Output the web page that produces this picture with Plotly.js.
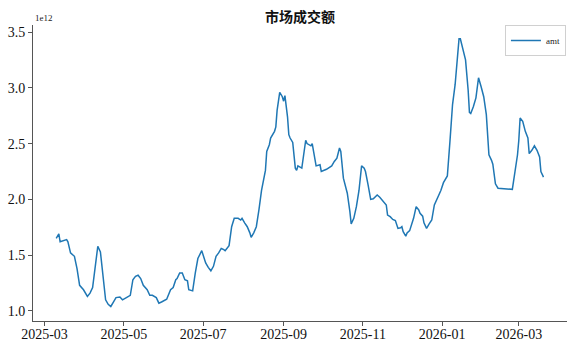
<!DOCTYPE html>
<html>
<head>
<meta charset="utf-8">
<script src="https://cdn.plot.ly/plotly-3.0.1.min.js"></script>
<style>html,body{margin:0;padding:0;background:#fff}#chart{width:576px;height:346px}</style>
</head>
<body>
<div id="chart"></div>
<script>
const dates = [
"2025-03-10","2025-03-12","2025-03-13","2025-03-16","2025-03-18","2025-03-19","2025-03-21","2025-03-24","2025-03-26","2025-03-28",
"2025-03-31","2025-04-03","2025-04-05","2025-04-07","2025-04-09","2025-04-11","2025-04-13","2025-04-15","2025-04-17","2025-04-19",
"2025-04-21","2025-04-23","2025-04-25","2025-04-28","2025-04-30","2025-05-03","2025-05-06","2025-05-08","2025-05-10","2025-05-12",
"2025-05-14","2025-05-16","2025-05-19","2025-05-21","2025-05-23","2025-05-26","2025-05-28","2025-05-30","2025-06-03","2025-06-06",
"2025-06-08","2025-06-10","2025-06-11","2025-06-13","2025-06-15","2025-06-17","2025-06-19","2025-06-20","2025-06-23","2025-06-25",
"2025-06-27","2025-06-30","2025-07-03","2025-07-05","2025-07-07","2025-07-09","2025-07-11","2025-07-13","2025-07-15","2025-07-17",
"2025-07-18","2025-07-21","2025-07-23","2025-07-25","2025-07-28","2025-07-30","2025-07-31","2025-08-02","2025-08-04","2025-08-06",
"2025-08-07","2025-08-09","2025-08-11","2025-08-13","2025-08-15","2025-08-18","2025-08-19","2025-08-21","2025-08-22","2025-08-25",
"2025-08-26","2025-08-27","2025-08-29","2025-08-31","2025-09-01","2025-09-02","2025-09-04","2025-09-05","2025-09-06","2025-09-08",
"2025-09-10","2025-09-11","2025-09-12","2025-09-15","2025-09-16","2025-09-18","2025-09-19","2025-09-22","2025-09-23","2025-09-25",
"2025-09-26","2025-09-29","2025-09-30","2025-10-04","2025-10-08","2025-10-10","2025-10-12","2025-10-14","2025-10-15","2025-10-17",
"2025-10-20","2025-10-22","2025-10-23","2025-10-25","2025-10-27","2025-10-29","2025-10-31","2025-11-02","2025-11-03","2025-11-05",
"2025-11-07","2025-11-09","2025-11-12","2025-11-14","2025-11-17","2025-11-19","2025-11-20","2025-11-22","2025-11-24","2025-11-26",
"2025-11-28","2025-11-30","2025-12-01","2025-12-02","2025-12-04","2025-12-05","2025-12-07","2025-12-09","2025-12-10","2025-12-12",
"2025-12-14","2025-12-15","2025-12-17","2025-12-18","2025-12-20","2025-12-22","2025-12-24","2025-12-26","2025-12-28","2025-12-31",
"2026-01-02","2026-01-05","2026-01-07","2026-01-09","2026-01-11","2026-01-14","2026-01-15","2026-01-17","2026-01-19","2026-01-21",
"2026-01-22","2026-01-23","2026-01-25","2026-01-27","2026-01-29","2026-01-31","2026-02-02","2026-02-04","2026-02-06","2026-02-08",
"2026-02-09","2026-02-11","2026-02-13","2026-02-24","2026-02-26","2026-02-28","2026-03-01","2026-03-02","2026-03-04","2026-03-06",
"2026-03-08","2026-03-09","2026-03-11","2026-03-13","2026-03-15","2026-03-17","2026-03-18","2026-03-20"
];
// amt in units of 1e12
const amt_e12 = [
1.65,1.69,1.62,1.63,1.64,1.62,1.52,1.49,1.38,1.23,
1.19,1.13,1.16,1.21,1.40,1.58,1.53,1.34,1.10,1.06,
1.04,1.08,1.12,1.125,1.10,1.12,1.14,1.28,1.31,1.32,
1.29,1.23,1.19,1.14,1.14,1.12,1.07,1.08,1.105,1.19,
1.21,1.28,1.29,1.34,1.34,1.28,1.27,1.19,1.18,1.34,
1.47,1.54,1.43,1.39,1.36,1.40,1.49,1.52,1.56,1.55,
1.54,1.585,1.755,1.83,1.83,1.815,1.83,1.79,1.755,1.70,
1.66,1.70,1.755,1.905,2.08,2.26,2.43,2.49,2.55,2.61,
2.65,2.80,2.96,2.92,2.88,2.93,2.74,2.58,2.55,2.51,
2.28,2.26,2.30,2.28,2.35,2.53,2.50,2.48,2.50,2.34,
2.30,2.31,2.25,2.27,2.30,2.34,2.37,2.46,2.43,2.19,
2.055,1.89,1.78,1.83,1.935,2.08,2.30,2.28,2.25,2.13,
2.00,2.006,2.04,2.02,1.98,1.95,1.86,1.845,1.82,1.81,
1.74,1.745,1.755,1.71,1.67,1.70,1.72,1.79,1.83,1.935,
1.905,1.875,1.85,1.79,1.74,1.78,1.815,1.95,2.00,2.08,
2.15,2.21,2.52,2.85,3.03,3.44,3.44,3.35,3.25,2.98,
2.78,2.77,2.83,2.91,3.09,3.01,2.92,2.76,2.40,2.35,
2.315,2.14,2.10,2.09,2.25,2.40,2.53,2.73,2.70,2.61,
2.55,2.41,2.44,2.48,2.44,2.38,2.25,2.20
];
const yTickVals = [1.0,1.5,2.0,2.5,3.0,3.5];
const yTickText = ["1.0","1.5","2.0","2.5","3.0","3.5"];
const xTickVals = ["2025-03-01","2025-05-01","2025-07-01","2025-09-01","2025-11-01","2026-01-01","2026-03-01"];
const xTickText = ["2025-03","2025-05","2025-07","2025-09","2025-11","2026-01","2026-03"];

const SCALE = 1e12;
const serif = "Liberation Serif, DejaVu Serif, serif";

const trace = {
  x: dates,
  y: amt_e12.map(v => v * SCALE),
  type: "scatter",
  mode: "lines",
  name: "amt",
  line: {color: "#1f77b4", width: 1.5}
};

const layout = {
  width: 576, height: 346,
  margin: {l: 33, r: 9, t: 25, b: 25},
  paper_bgcolor: "#fff", plot_bgcolor: "#fff",
  title: {text: "市场成交额", font: {family: "Noto Sans CJK SC", size: 14, weight: 700, color: "#111"}, x: 0.5, xref: "paper", xanchor: "center", y: 0.95, yref: "container", yanchor: "middle"},
  showlegend: true,
  legend: {x: 0.998, xanchor: "right", y: 1.0, yanchor: "top", bgcolor: "#fff", bordercolor: "#d0d0d0", borderwidth: 1, itemwidth: 30, tracegroupgap: 0, font: {family: serif, size: 9, color: "#222"}},
  xaxis: {
    type: "date",
    range: ["2025-02-20 03:00", "2026-04-07 02:00"],
    tickvals: xTickVals, ticktext: xTickText,
    showgrid: false, zeroline: false,
    showline: true, linecolor: "#555", linewidth: 1,
    ticks: "outside", ticklen: 4, tickcolor: "#555",
    ticklabelstandoff: -4,
    tickfont: {family: serif, size: 14, color: "#111"}
  },
  yaxis: {
    range: [0.910 * SCALE, 3.563 * SCALE],
    tickvals: yTickVals.map(v => v * SCALE), ticktext: yTickText,
    showgrid: false, zeroline: false,
    showline: true, linecolor: "#555", linewidth: 1,
    ticks: "outside", ticklen: 4, tickcolor: "#555",
    tickfont: {family: serif, size: 14, color: "#111"}
  },
  annotations: [{
    text: "1e12", xref: "paper", yref: "paper", x: 0, y: 1, xanchor: "left", yanchor: "bottom",
    showarrow: false, font: {family: serif, size: 9, color: "#222"}, yshift: 0
  }]
};

Plotly.newPlot("chart", [trace], layout, {displayModeBar: false, staticPlot: true});
</script>
</body>
</html>
